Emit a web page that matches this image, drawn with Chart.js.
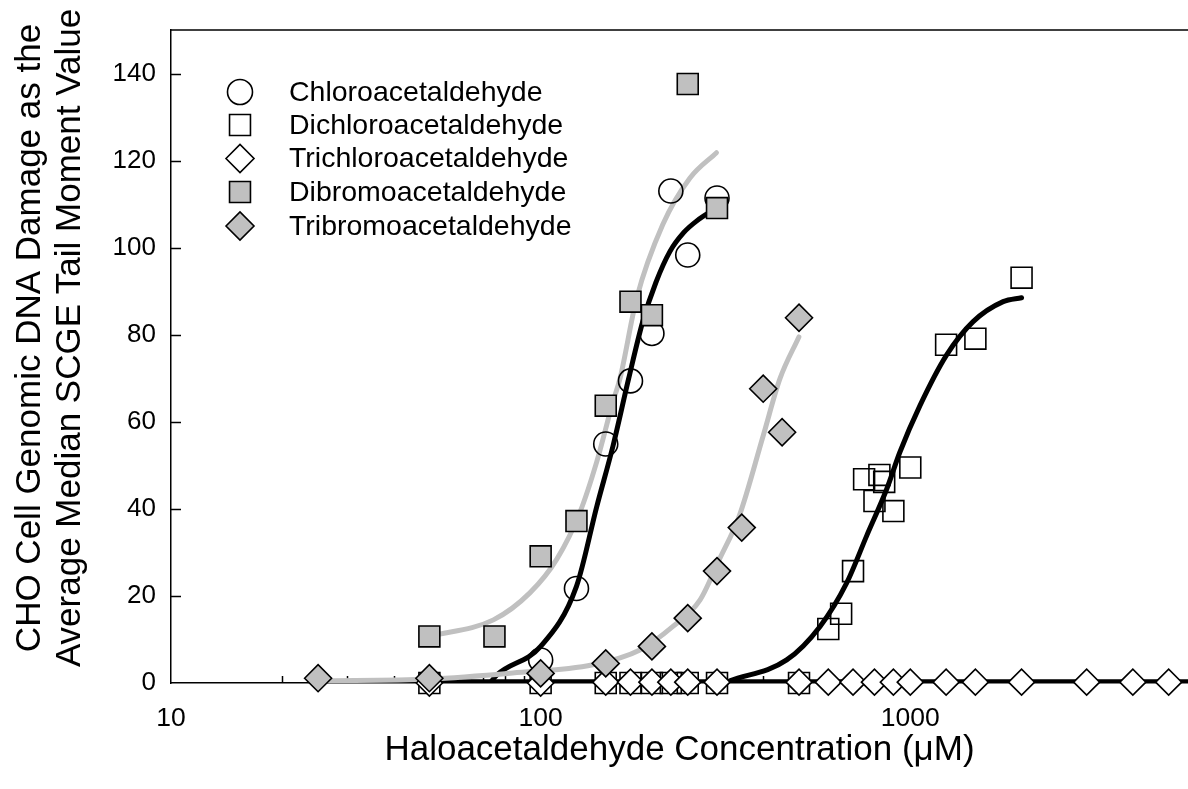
<!DOCTYPE html>
<html><head><meta charset="utf-8">
<script src="https://cdn.jsdelivr.net/npm/chart.js@4.4.0/dist/chart.umd.min.js"></script>
<style>html,body{margin:0;padding:0;background:#fff;overflow:hidden}#wrap{width:1188px;height:789px}</style>
</head><body><div id="wrap"><canvas id="c" width="1188" height="789"></canvas></div>
<script>
// ---------- data ----------
const xTickLabels = [10, 100, 1000];
const yTickStep = 20;
const seriesNames = ['Chloroacetaldehyde', 'Dichloroacetaldehyde', 'Trichloroacetaldehyde', 'Dibromoacetaldehyde', 'Tribromoacetaldehyde'];

const chloroConc   = [100, 125, 150, 175, 200, 225, 250, 300];
const chloroDamage = [5.3, 21.7, 54.9, 69.4, 80.3, 113, 98.3, 111.4];

const dichloroConc   = [50, 100, 150, 175, 200, 225, 250, 300, 500, 600, 650, 700, 750, 800, 825, 850, 900, 1000, 1250, 1500, 2000];
const dichloroDamage = [0, 0, 0, 0, 0, 0, 0, 0, 0, 12.4, 15.9, 25.7, 46.8, 41.8, 47.8, 46.2, 39.5, 49.5, 77.7, 79.1, 93.1];

const trichloroConc   = [50, 100, 150, 175, 200, 225, 250, 300, 500, 600, 700, 800, 900, 1000, 1250, 1500, 2000, 3000, 4000, 5000];
const trichloroDamage = [0, 0, 0.2, 0.2, 0.2, 0.2, 0.2, 0.2, 0.2, 0.2, 0.2, 0.2, 0.2, 0.2, 0.2, 0.2, 0.2, 0.2, 0.2, 0.2];

const dibromoConc   = [50, 75, 100, 125, 150, 175, 200, 250, 300];
const dibromoDamage = [10.7, 10.7, 29.1, 37.2, 63.7, 87.6, 84.5, 137.6, 109.1];

const tribromoConc   = [25, 50, 100, 150, 200, 250, 300, 350, 400, 450, 500];
const tribromoDamage = [1.1, 1.1, 2.2, 4.5, 8.4, 14.9, 25.7, 35.7, 67.6, 57.6, 83.9];

// fitted curves
const chloroFitConc   = [73, 76, 100, 125, 142, 157, 173, 189, 205, 224, 244, 264, 299];
const chloroFitDamage = [0, 1.8, 8.4, 22.2, 40.7, 54.5, 69.9, 83.1, 92, 99.2, 103.5, 106.1, 109.1];

const dichloroFitConc   = [325, 463, 570, 673, 762, 863, 937, 1062, 1253, 1479, 1783, 2000];
const dichloroFitDamage = [0.5, 5.3, 13, 23, 33.8, 44.5, 53, 63.7, 75.3, 83, 87.6, 88.5];

const trichloroFitConc   = [48, 6000];
const trichloroFitDamage = [0.3, 0.3];

const dibromoFitConc   = [50, 74.5, 93.5, 110.5, 127.7, 141.8, 156.9, 163.9, 181.9, 214, 253.5, 299];
const dibromoFitDamage = [10.7, 14.5, 20.7, 28.4, 39.2, 50.8, 64.6, 69.9, 88.4, 105.3, 116, 121.8];

const tribromoFitConc   = [25, 50, 84, 138.5, 185.6, 228, 270, 304.5, 344.7, 400, 444, 499.6];
const tribromoFitDamage = [0.5, 0.9, 2.3, 4.2, 7.6, 13, 19.1, 28.4, 38.4, 56.8, 69.9, 79.5];

// ---------- chart ----------
const FONT = "'Liberation Sans', Arial, Helvetica, sans-serif";
const GRAY = '#c0c0c0';
const pair = (xs, ys) => xs.map((v, i) => ({x: v, y: ys[i]}));

function markers(label, xs, ys, style, radius, fill, order) {
  return {label, data: pair(xs, ys), showLine: false, pointStyle: style, pointRadius: radius,
    pointHoverRadius: radius, pointBackgroundColor: fill, pointBorderColor: '#000',
    pointBorderWidth: 1.6, order, clip: false};
}
function fit(label, xs, ys, color, order) {
  return {label, data: pair(xs, ys), showLine: true, pointRadius: 0, pointHoverRadius: 0,
    borderColor: color, borderWidth: 5, cubicInterpolationMode: 'monotone',
    borderCapStyle: 'round', fill: false, order};
}

const datasets = [
  markers(seriesNames[4], tribromoConc, tribromoDamage, 'rectRot', 13.5, GRAY, 0),
  markers(seriesNames[2], trichloroConc, trichloroDamage, 'rectRot', 13, '#fff', 1),
  markers(seriesNames[3], dibromoConc, dibromoDamage, 'rect', 14.8, GRAY, 2),
  markers(seriesNames[0], chloroConc, chloroDamage, 'circle', 12, 'rgba(0,0,0,0)', 3),
  markers(seriesNames[1], dichloroConc, dichloroDamage, 'rect', 14.8, 'rgba(0,0,0,0)', 4),
  fit(seriesNames[3] + ' fit', dibromoFitConc, dibromoFitDamage, GRAY, 5),
  fit(seriesNames[4] + ' fit', tribromoFitConc, tribromoFitDamage, GRAY, 6),
  fit(seriesNames[0] + ' fit', chloroFitConc, chloroFitDamage, '#000', 7),
  fit(seriesNames[1] + ' fit', dichloroFitConc, dichloroFitDamage, '#000', 8),
  fit(seriesNames[2] + ' fit', trichloroFitConc, trichloroFitDamage, '#000', 9)
];

// legend entries: dataset index of the marker series, in display order
const legendOrder = [3, 4, 1, 2, 0];

function drawMarker(ctx, style, x, y, r, fill) {
  ctx.beginPath();
  if (style === 'circle') ctx.arc(x, y, r, 0, Math.PI * 2);
  else if (style === 'rect') { const s = r * Math.SQRT1_2; ctx.rect(x - s, y - s, 2 * s, 2 * s); }
  else { ctx.moveTo(x - r, y); ctx.lineTo(x, y - r); ctx.lineTo(x + r, y); ctx.lineTo(x, y + r); ctx.closePath(); }
  ctx.fillStyle = fill; ctx.fill();
  ctx.lineWidth = 1.6; ctx.strokeStyle = '#000'; ctx.stroke();
}

const decor = {
  id: 'decor',
  beforeDatasetsDraw(chart) {
    const {ctx, chartArea: a, scales: {x, y}} = chart;
    ctx.save();
    ctx.strokeStyle = '#000'; ctx.lineWidth = 1.5;
    ctx.beginPath(); ctx.moveTo(a.left, a.top); ctx.lineTo(a.right + 2, a.top); ctx.stroke();
    x.ticks.forEach(t => {
      if (t.value >= x.max || t.value <= x.min) return;
      const px = Math.round(x.getPixelForValue(t.value)) + 0.5;
      const len = xTickLabels.includes(t.value) ? 10 : 7;
      ctx.beginPath(); ctx.moveTo(px, a.bottom); ctx.lineTo(px, a.bottom - len); ctx.stroke();
    });
    y.ticks.forEach(t => {
      if (t.value <= y.min) return;
      const py = Math.round(y.getPixelForValue(t.value)) + 0.5;
      ctx.beginPath(); ctx.moveTo(a.left, py); ctx.lineTo(a.left + 10, py); ctx.stroke();
    });
    ctx.restore();
  },
  afterDraw(chart) {
    const {ctx} = chart;
    ctx.save();
    // legend
    const rowY = [92, 125, 158.5, 192, 226];
    const legendR = {circle: 12.5, rect: 14.8, rectRot: 14};
    ctx.font = '28.5px ' + FONT;
    legendOrder.forEach((di, k) => {
      const ds = chart.data.datasets[di];
      drawMarker(ctx, ds.pointStyle, 240, rowY[k], legendR[ds.pointStyle],
        ds.pointBackgroundColor === 'rgba(0,0,0,0)' ? '#fff' : ds.pointBackgroundColor);
      ctx.fillStyle = '#000'; ctx.textAlign = 'left'; ctx.textBaseline = 'middle';
      ctx.fillText(ds.label, 289, rowY[k] + 1);
    });
    // y-axis title (two lines)
    ctx.font = '35px ' + FONT;
    ctx.textAlign = 'center'; ctx.textBaseline = 'middle'; ctx.fillStyle = '#000';
    const cy = 338;
    [['CHO Cell Genomic DNA Damage as the', 30], ['Average Median SCGE Tail Moment Value', 70]].forEach(([t, cx]) => {
      ctx.save(); ctx.translate(cx, cy); ctx.rotate(-Math.PI / 2); ctx.fillText(t, 0, 0); ctx.restore();
    });
    ctx.restore();
  }
};

new Chart(document.getElementById('c'), {
  type: 'scatter',
  data: {datasets},
  plugins: [decor],
  options: {
    responsive: false, animation: false, devicePixelRatio: 1,
    layout: {autoPadding: false, padding: {top: 30, right: 0, bottom: 0, left: 0}},
    plugins: {legend: {display: false}, tooltip: {enabled: false}},
    scales: {
      x: {
        type: 'logarithmic', min: 10, max: 5640, position: 'bottom',
        grid: {display: false, drawTicks: false},
        border: {display: true, color: '#000', width: 1.5},
        ticks: {autoSkip: false, maxRotation: 0, minRotation: 0, padding: 20, color: '#000',
          font: {size: 26.5, family: FONT},
          callback: v => xTickLabels.includes(v) ? String(v) : ''},
        title: {display: true, text: 'Haloacetaldehyde Concentration (μM)', color: '#000',
          font: {size: 35, family: FONT}, padding: {top: 0, bottom: 18}},
        afterFit: s => { s.height = 106; s.paddingLeft = 0; s.paddingRight = 0; }
      },
      y: {
        type: 'linear', min: 0, max: 150,
        grid: {display: false, drawTicks: false},
        border: {display: true, color: '#000', width: 1.5},
        ticks: {stepSize: yTickStep, includeBounds: false, padding: 15, color: '#000',
          font: {size: 26, family: FONT}},
        afterFit: s => { s.width = 171; s.paddingTop = 0; s.paddingBottom = 0; }
      }
    }
  }
});
</script>
</body></html>
